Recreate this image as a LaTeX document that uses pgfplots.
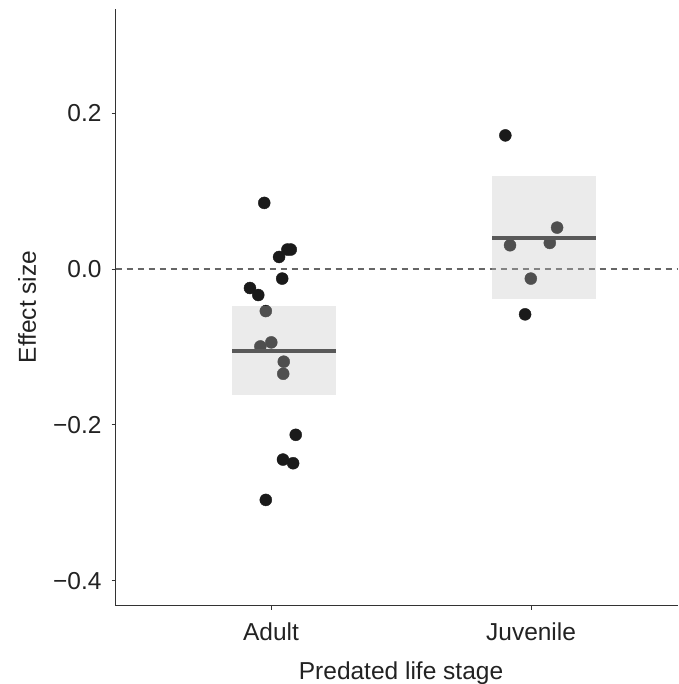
\documentclass[border=0pt]{standalone}
\usepackage{pgfplots}
\pgfplotsset{compat=1.18}
\usepackage{fontspec}
\setmainfont{Liberation Sans}
\definecolor{pt}{HTML}{1A1A1A}
\definecolor{boxc}{RGB}{193,193,193}
\definecolor{meanc}{HTML}{595959}
\definecolor{dashc}{HTML}{666666}
\definecolor{axc}{HTML}{333333}
\definecolor{txt}{HTML}{222222}
\begin{document}
\begin{tikzpicture}[x=1pt,y=1pt]
\begin{axis}[
  set layers=standard,
  at={(115.5pt,-605.5pt)}, anchor=south west,
  scale only axis, width=562.5pt, height=596.5pt,
  xmin=0.402, xmax=2.565, ymin=-0.432, ymax=0.334,
  axis lines*=left,
  axis line style={-, color=axc, line width=0.9pt},
  tick align=outside, major tick length=4pt,
  tick style={color=axc, line width=0.9pt},
  xtick={1,2}, xticklabels={Adult, Juvenile},
  ytick={-0.4,-0.2,0,0.2}, yticklabels={−0.4,−0.2,0.0,0.2},
  font=\fontsize{24.5}{29}\selectfont,
  tick label style={color=txt},
  xticklabel style={anchor=base, inner sep=0pt, yshift=-30.5pt},
  yticklabel style={anchor=east, inner sep=0pt, xshift=-9.8pt},
  xlabel={Predated life stage},
  ylabel={Effect size},
  label style={color=txt},
  xlabel style={at={(rel axis cs:0.5076,0)}, anchor=base, inner sep=0pt, yshift=-73.8pt},
  ylabel style={at={(rel axis cs:0,0.5004)}, anchor=center, rotate=0, yshift=88.5pt, inner sep=0pt},
  clip=false,
]
\addplot[dashc, line width=1.2pt, dash pattern=on 6.5pt off 4.5pt] coordinates {(0.402,0) (2.565,0)};
% Adult
\addplot[only marks, mark=*, mark size=6pt, color=pt] coordinates {
(0.974,0.0850) (1.076,0.0251) (1.063,0.0251) (1.031,0.0156) (1.043,-0.0122)
(0.919,-0.0243) (0.951,-0.0333) (0.980,-0.0539) (0.959,-0.0993) (1.001,-0.0941)
(1.049,-0.1189) (1.047,-0.1344) (1.095,-0.2128) (1.046,-0.2446) (1.085,-0.2493)
(0.980,-0.2964)};
% Juvenile
\addplot[only marks, mark=*, mark size=6pt, color=pt] coordinates {
(1.901,0.1717) (2.100,0.0533) (1.919,0.0306) (2.072,0.0336) (1.999,-0.0122)
(1.977,-0.0581)};
% interval boxes
\addplot[on layer=axis foreground, draw=none, fill=boxc, fill opacity=0.32] coordinates {(0.85,-0.162) (1.25,-0.162) (1.25,-0.048) (0.85,-0.048)} -- cycle;
\addplot[on layer=axis foreground, draw=none, fill=boxc, fill opacity=0.32] coordinates {(1.85,-0.0388) (2.25,-0.0388) (2.25,0.119) (1.85,0.119)} -- cycle;
% means
\addplot[on layer=axis foreground, meanc, line width=4.3pt] coordinates {(0.85,-0.105) (1.25,-0.105)};
\addplot[on layer=axis foreground, meanc, line width=4.3pt] coordinates {(1.85,0.040) (2.25,0.040)};
\end{axis}
\pgfresetboundingbox
\path[use as bounding box] (0,0) rectangle (678pt,-684pt);
\end{tikzpicture}
\end{document}
